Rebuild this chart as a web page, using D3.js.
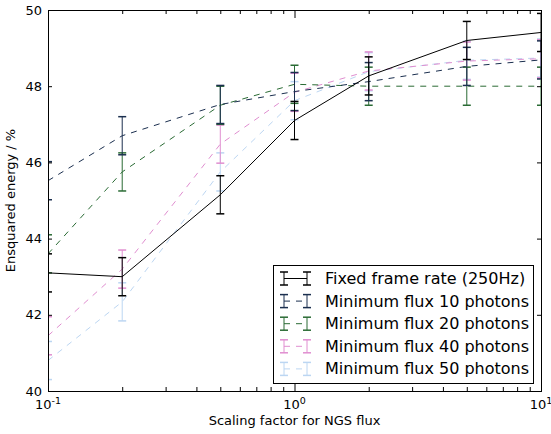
<!DOCTYPE html>
<html><head><meta charset="utf-8">
<script src="https://cdn.jsdelivr.net/npm/d3@7"></script>
<style>body{margin:0;background:#fff}svg{display:block;font-family:"DejaVu Sans",sans-serif}</style>
</head><body><svg id="c" width="551" height="434"></svg>
<script>
const xs = [0.1, 0.2, 0.5, 1, 2, 5, 10];
const seriesNames = ["Fixed frame rate (250Hz)", "Minimum flux 10 photons", "Minimum flux 20 photons", "Minimum flux 40 photons", "Minimum flux 50 photons"];
const fixed   = [43.1, 43.0, 45.15, 47.1, 48.27, 49.2, 49.41];
const flux10  = [45.52, 46.7, 47.52, 47.86, 48.12, 48.52, 48.69];
const flux20  = [43.6, 45.75, 47.5, 48.05, 48.0, 48.0, 48.0];
const flux40  = [41.45, 43.2, 46.48, 47.84, 48.4, 48.66, 48.72];
const flux50  = [40.8, 42.34, 45.75, 47.62, 48.38, 48.68, 48.74];
const errs    = [0.5, 0.5, 0.5, 0.5, 0.5];
const colors  = ["#000000", "#1b2f4f", "#2a6b34", "#e08ed0", "#bcd6f2"];
const dashed  = [false, true, true, true, true];
const yTicks  = [40, 42, 44, 46, 48, 50];
const xTicks  = [0.1, 1, 10];
const xTickLabels = [["10", "-1"], ["10", "0"], ["10", "1"]];
const allSeries = [fixed, flux10, flux20, flux40, flux50];

const svg = d3.select("#c");
const L = 48, R = 541, T = 10, B = 391;
const x = d3.scaleLog().domain([0.1, 10]).range([L, R]);
const y = d3.scaleLinear().domain([40, 50]).range([B, T]);

svg.append("clipPath").attr("id", "clip").append("rect")
  .attr("x", L).attr("y", T).attr("width", R - L).attr("height", B - T);

const plot = svg.append("g").attr("clip-path", "url(#clip)");
const line = d3.line().x((d, i) => x(xs[i])).y(d => y(d));
const cap = 4;

for (let s = allSeries.length - 1; s >= 0; s--) {
  const vals = allSeries[s];
  const g = plot.append("g");
  g.append("path").datum(vals).attr("d", line).attr("fill", "none")
    .attr("stroke", colors[s]).attr("stroke-width", 1)
    .attr("stroke-dasharray", dashed[s] ? "6,6" : null);
  vals.forEach((v, i) => {
    const cx = x(xs[i]), e = errs[s];
    const y1 = y(v + e), y2 = y(v - e);
    g.append("line").attr("x1", cx).attr("x2", cx).attr("y1", y1).attr("y2", y2).attr("stroke", colors[s]).attr("stroke-width", 1);
    g.append("line").attr("x1", cx - cap).attr("x2", cx + cap).attr("y1", y1).attr("y2", y1).attr("stroke", colors[s]).attr("stroke-width", 1.5);
    g.append("line").attr("x1", cx - cap).attr("x2", cx + cap).attr("y1", y2).attr("y2", y2).attr("stroke", colors[s]).attr("stroke-width", 1.5);
  });
}

const ax = svg.append("g");
const minor = [];
for (let dec = 0.1; dec < 10; dec *= 10) for (let k = 2; k <= 9; k++) minor.push(dec * k);
ax.append("g").attr("transform", `translate(0,${B})`)
  .call(d3.axisBottom(x).tickValues(xTicks).tickSize(-8).tickFormat(""));
ax.append("g").attr("transform", `translate(0,${B})`)
  .call(d3.axisBottom(x).tickValues(minor).tickSize(-4).tickFormat(""));
ax.append("g").attr("transform", `translate(0,${T})`)
  .call(d3.axisTop(x).tickValues(xTicks).tickSize(-8).tickFormat(""));
ax.append("g").attr("transform", `translate(0,${T})`)
  .call(d3.axisTop(x).tickValues(minor).tickSize(-4).tickFormat(""));
ax.append("g").attr("transform", `translate(${L},0)`)
  .call(d3.axisLeft(y).tickValues(yTicks).tickSize(-4).tickPadding(6).tickFormat(d3.format("d")));
ax.append("g").attr("transform", `translate(${R},0)`)
  .call(d3.axisRight(y).tickValues(yTicks).tickSize(-4).tickFormat(""));
ax.selectAll(".domain").attr("stroke", "#000");
ax.selectAll(".tick line").attr("stroke", "#000");
ax.selectAll(".tick text").attr("font-size", 13).attr("font-family", "DejaVu Sans").attr("fill", "#000");

xTicks.forEach((t, i) => {
  const tx = svg.append("text").attr("x", x(t)).attr("y", B + 18).attr("text-anchor", "middle")
    .attr("font-size", 13).attr("fill", "#000");
  tx.append("tspan").text(xTickLabels[i][0]);
  tx.append("tspan").attr("dy", -5).attr("font-size", 9.5).text(xTickLabels[i][1]);
});

svg.append("text").attr("x", (L + R) / 2).attr("y", 425).attr("text-anchor", "middle")
  .attr("font-size", 13).text("Scaling factor for NGS flux");
svg.append("text").attr("transform", `translate(15,${(T + B) / 2}) rotate(-90)`).attr("text-anchor", "middle")
  .attr("font-size", 13).text("Ensquared energy / %");

const lg = svg.append("g");
lg.append("rect").attr("x", 273.5).attr("y", 265.5).attr("width", 260).attr("height", 118)
  .attr("fill", "#fff").attr("stroke", "#000").attr("stroke-width", 1);
seriesNames.forEach((n, s) => {
  const ry = 278.5 + s * 22.6;
  const x0 = 284, x1 = 307;
  lg.append("line").attr("x1", x0).attr("x2", x1).attr("y1", ry).attr("y2", ry)
    .attr("stroke", colors[s]).attr("stroke-dasharray", dashed[s] ? "6,6" : null);
  [x0, x1].forEach(px => {
    lg.append("line").attr("x1", px).attr("x2", px).attr("y1", ry - 6.5).attr("y2", ry + 6.5).attr("stroke", colors[s]);
    lg.append("line").attr("x1", px - cap).attr("x2", px + cap).attr("y1", ry - 6.5).attr("y2", ry - 6.5).attr("stroke", colors[s]).attr("stroke-width", 1.5);
    lg.append("line").attr("x1", px - cap).attr("x2", px + cap).attr("y1", ry + 6.5).attr("y2", ry + 6.5).attr("stroke", colors[s]).attr("stroke-width", 1.5);
  });
  lg.append("text").attr("x", 325).attr("y", ry + 5.5).attr("font-size", 16).attr("fill", "#000").text(n);
});
</script></body></html>
